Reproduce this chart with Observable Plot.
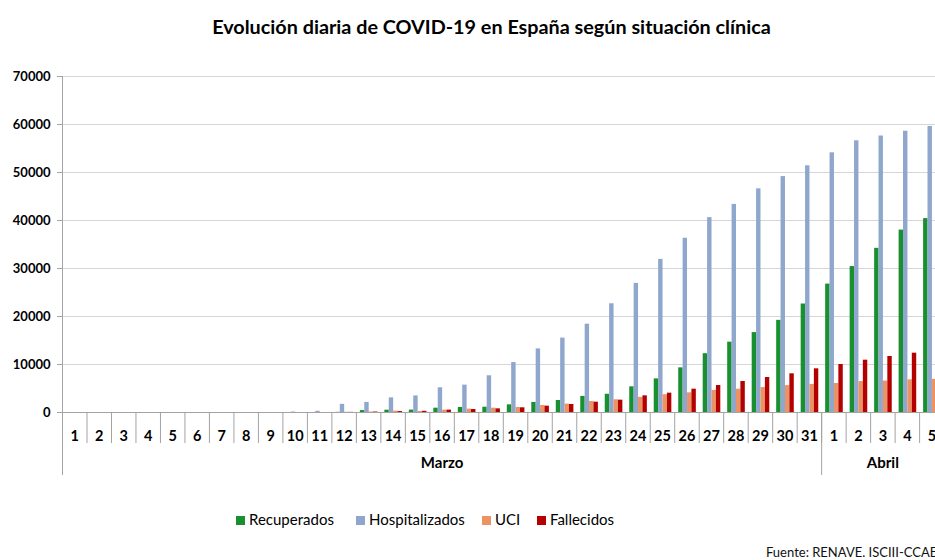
<!DOCTYPE html>
<html><head><meta charset="utf-8">
<script src="https://cdn.jsdelivr.net/npm/d3@7"></script>
<script src="https://cdn.jsdelivr.net/npm/@observablehq/plot@0.6"></script>
<style>
html,body{margin:0;padding:0;background:#fff;overflow:hidden;width:935px;height:560px;}
body{position:relative;font-family:Lato,"Open Sans",sans-serif;color:#000;}
#title{position:absolute;left:24px;width:935px;top:14px;text-align:center;font-weight:bold;font-size:18px;white-space:nowrap;}
#title span{display:inline-block;}
#chart{position:absolute;left:0;top:50px;}
.lg{position:absolute;top:509px;font-size:15px;white-space:nowrap;line-height:20px;}
.lg i{display:inline-block;width:9px;height:9px;margin-right:4px;vertical-align:0px;}
#source{position:absolute;left:766px;top:544px;font-size:13px;white-space:nowrap;color:#111;}
</style></head>
<body>
<div id="title"><span>Evolución diaria de COVID-19 en España según situación clínica</span></div>
<div id="chart"></div>
<div id="legend"></div>
<div id="source">Fuente: RENAVE. ISCIII-CCAES</div>
<script>
// ---- data ----
const diasMarzo = d3.range(1, 32);
const diasAbril = [1, 2, 3, 4, 5];
const series = ["Recuperados", "Hospitalizados", "UCI", "Fallecidos"];
const colores = ["#18902f", "#8fa6cd", "#ec9364", "#b30000"];
const yTicks = [0, 10000, 20000, 30000, 40000, 50000, 60000, 70000];
const recuperados = [0,0,0,0,0,0,0,0,0, 0,0,30,400,480,500,900,1050,1100,1600,2100,2500,3350,3800,5350,7000,9300,12250,14650,16650,19200,22600, 26750,30400,34200,38000,40400];
const hospitalizados = [0,0,0,0,0,0,0,0,0, 100,250,1700,2100,3050,3450,5150,5700,7650,10400,13250,15500,18400,22650,26900,31900,36300,40600,43350,46600,49150,51400, 54100,56600,57600,58600,59600];
const uci = [0,0,0,0,0,0,0,0,0, 0,0,50,100,280,210,490,700,900,1050,1450,1750,2300,2650,3150,3700,4100,4600,4850,5200,5600,5850, 6050,6450,6550,6800,6900];
const fallecidos = [0,0,0,0,0,0,0,0,0, 0,0,30,100,200,250,500,620,760,980,1320,1670,2150,2570,3470,4030,4860,5620,6460,7290,8060,9100, 10000,10900,11670,12360,13050];
const valores = [recuperados, hospitalizados, uci, fallecidos];

const keys = [...diasMarzo.map(d => "3-" + d), ...diasAbril.map(d => "4-" + d)];
const x0 = 62, x1 = 943.6, bw = (x1 - x0) / keys.length;
const barW = 4.4, off = 4;
const grey = "#a3a3a3";

const marks = [
  Plot.gridY(yTicks, {stroke: "#d6d6d6", strokeOpacity: 1}),
  ...series.map((s, i) => Plot.barY(keys, {
    x: d => d, y: (d, j) => valores[i][j], fill: colores[i],
    insetLeft: off + i * barW, insetRight: bw - off - (i + 1) * barW
  })),
  Plot.ruleY([0], {stroke: grey}),
  Plot.ruleX(["3-1"], {dx: -bw / 2, stroke: grey}),
  Plot.axisY({ticks: yTicks, tickSize: 5, tickPadding: 7, tickFormat: d => String(d), label: null,
    fontWeight: "bold", fontSize: 13, stroke: grey, fill: "#000"}),
  Plot.axisX({tickSize: 31, tickFormat: () => "", dx: -bw / 2, stroke: grey, label: null}),
  Plot.axisX({ticks: ["3-1", "4-1"], tickSize: 63, tickFormat: () => "", dx: -bw / 2, stroke: grey, label: null}),
  Plot.axisX({tickSize: 0, tickPadding: 18, tickFormat: k => k.split("-")[1], label: null,
    fontWeight: "bold", fontSize: 14.5, fill: "#000"}),
  Plot.text([{k: "3-16", t: "Marzo"}, {k: "4-3", t: "Abril"}], {
    x: "k", text: "t", frameAnchor: "bottom", dy: 55, fontWeight: "bold", fontSize: 15, fill: "#000"})
];

const chart = Plot.plot({
  width: 935, height: 440,
  marginLeft: 62, marginRight: 0, marginTop: 26, marginBottom: 78,
  style: {fontFamily: "Lato, 'Open Sans', sans-serif", background: "#fff", overflow: "hidden"},
  x: {type: "band", domain: keys, range: [x0, x1], padding: 0, round: false, label: null},
  y: {domain: [0, 70000], label: null},
  marks
});
document.getElementById("chart").appendChild(chart);

// legend
const lgX = [236, 356, 482, 537];
const lg = document.getElementById("legend");
series.forEach((s, i) => {
  const el = document.createElement("div");
  el.className = "lg";
  el.style.left = lgX[i] + "px";
  el.innerHTML = `<i style="background:${colores[i]}"></i>${s}`;
  lg.appendChild(el);
});

// fit title to reference width
const t = document.querySelector("#title span");
const w = t.getBoundingClientRect().width;
document.getElementById("title").style.fontSize = (18 * 559 / w).toFixed(2) + "px";
</script>
</body></html>
